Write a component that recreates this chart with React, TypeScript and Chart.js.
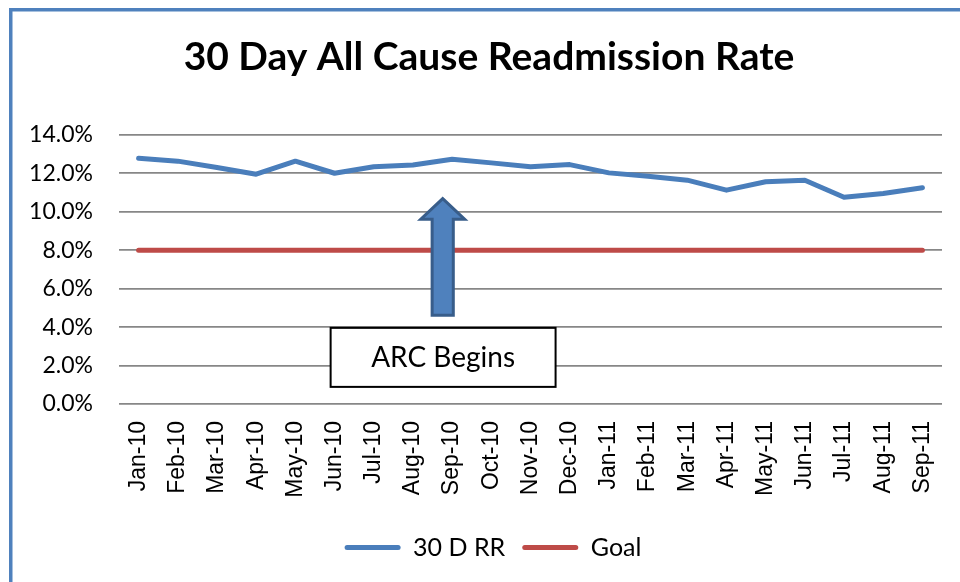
import React, { useEffect, useRef } from "react";
import { Chart, registerables } from "chart.js";

Chart.register(...registerables);

const chartTitle = "30 Day All Cause Readmission Rate";
const months = [
  "Jan-10", "Feb-10", "Mar-10", "Apr-10", "May-10", "Jun-10", "Jul-10",
  "Aug-10", "Sep-10", "Oct-10", "Nov-10", "Dec-10", "Jan-11", "Feb-11",
  "Mar-11", "Apr-11", "May-11", "Jun-11", "Jul-11", "Aug-11", "Sep-11",
];
const readmissionRate = [
  12.78, 12.63, 12.3, 11.95, 12.63, 12.0, 12.34, 12.43, 12.73, 12.54, 12.34,
  12.45, 12.02, 11.85, 11.64, 11.12, 11.56, 11.64, 10.75, 10.95, 11.25,
];
const goalRate = [
  8.0, 8.0, 8.0, 8.0, 8.0, 8.0, 8.0, 8.0, 8.0, 8.0, 8.0,
  8.0, 8.0, 8.0, 8.0, 8.0, 8.0, 8.0, 8.0, 8.0, 8.0,
];
const seriesNames = ["30 D RR", "Goal"];
const yMin = 0;
const yMax = 14;
const yStep = 2;

// annotation (in data units: category index / percent)
const annotationText = "ARC Begins";
const arrowAt = 7.76;
const arrowTip = 10.68;
const arrowHeadBase = 9.61;
const arrowBottom = 4.61;
const boxFrom = 4.9;
const boxTo = 10.64;
const boxTop = 3.96;
const boxBottom = 0.89;

const BLUE = "#4a7ebb";
const RED = "#be4b48";

const borderPlugin = {
  id: "frame",
  beforeDraw(chart: any) {
    const { ctx, width, height } = chart;
    ctx.save();
    ctx.fillStyle = "#ffffff";
    ctx.fillRect(0, 0, width, height);
    ctx.fillStyle = "#4f81bd";
    ctx.fillRect(9, 8, width - 9, 3.5);
    ctx.fillRect(9, 8, 3.5, height - 8);
    ctx.restore();
  },
};

// centre title and legend on the whole framed chart area, as in the original
const nudgePlugin = {
  id: "nudge",
  afterLayout(chart: any) {
    const t = chart.titleBlock;
    if (t) {
      t.left += 4;
      t.right += 4;
    }
    const l = chart.legend;
    if (l) {
      l.left += 8;
      l.right += 8;
    }
  },
};

const annotationPlugin = {
  id: "arcAnnotation",
  afterDatasetsDraw(chart: any) {
    const { ctx } = chart;
    const x = chart.scales.x;
    const y = chart.scales.y;
    const step = x.getPixelForValue(1) - x.getPixelForValue(0);
    const cx = x.getPixelForValue(arrowAt);
    const tip = y.getPixelForValue(arrowTip);
    const base = y.getPixelForValue(arrowHeadBase);
    const bottom = y.getPixelForValue(arrowBottom);
    const hw = step * 0.56;
    const sw = step * 0.27;
    ctx.save();
    ctx.beginPath();
    ctx.moveTo(cx, tip);
    ctx.lineTo(cx + hw, base);
    ctx.lineTo(cx + sw, base);
    ctx.lineTo(cx + sw, bottom);
    ctx.lineTo(cx - sw, bottom);
    ctx.lineTo(cx - sw, base);
    ctx.lineTo(cx - hw, base);
    ctx.closePath();
    ctx.fillStyle = "#4f81bd";
    ctx.fill();
    ctx.lineWidth = 3;
    ctx.lineJoin = "miter";
    ctx.strokeStyle = "#385d8a";
    ctx.stroke();

    const bx0 = x.getPixelForValue(boxFrom);
    const bx1 = x.getPixelForValue(boxTo);
    const by0 = y.getPixelForValue(boxTop);
    const by1 = y.getPixelForValue(boxBottom);
    ctx.fillStyle = "#ffffff";
    ctx.fillRect(bx0, by0, bx1 - bx0, by1 - by0);
    ctx.lineWidth = 2;
    ctx.strokeStyle = "#000000";
    ctx.strokeRect(bx0, by0, bx1 - bx0, by1 - by0);
    ctx.fillStyle = "#000000";
    ctx.font = "28px Lato";
    ctx.textAlign = "center";
    ctx.textBaseline = "middle";
    ctx.fillText(annotationText, (bx0 + bx1) / 2, (by0 + by1) / 2 + 1);
    ctx.restore();
  },
};

export default function App() {
  const canvasRef = useRef<HTMLCanvasElement | null>(null);

  useEffect(() => {
    let chart: Chart | null = null;
    let cancelled = false;
    const build = () => {
      if (cancelled || !canvasRef.current) return;
      chart = new Chart(canvasRef.current, {
        type: "line",
        data: {
          labels: months,
          datasets: [
            {
              label: seriesNames[0],
              data: readmissionRate,
              borderColor: BLUE,
              backgroundColor: BLUE,
              borderWidth: 5,
              pointRadius: 0,
              tension: 0,
              borderCapStyle: "round",
              borderJoinStyle: "round",
            },
            {
              label: seriesNames[1],
              data: goalRate,
              borderColor: RED,
              backgroundColor: RED,
              borderWidth: 5,
              pointRadius: 0,
              tension: 0,
              borderCapStyle: "round",
              borderJoinStyle: "round",
            },
          ],
        },
        options: {
          animation: false,
          responsive: false,
          devicePixelRatio: 1,
          layout: { padding: { left: 28, right: 18, top: 0, bottom: 12 } },
          plugins: {
            title: {
              display: true,
              text: chartTitle,
              color: "#000000",
              font: { family: "Lato", size: 39, weight: "bold" },
              padding: { top: 34, bottom: 54 },
            },
            legend: {
              display: true,
              position: "bottom",
              labels: {
                color: "#000000",
                font: { family: "Lato", size: 25 },
                boxWidth: 56,
                boxHeight: 5,
                padding: 17,
                generateLabels: (c: any) =>
                  Chart.defaults.plugins.legend.labels
                    .generateLabels(c)
                    .map((l: any) => ({ ...l, lineWidth: 0, borderRadius: 2.5 })),
              },
            },
            tooltip: { enabled: false },
          },
          scales: {
            x: {
              offset: true,
              grid: { display: false, drawTicks: false, offset: true },
              border: { display: false },
              ticks: {
                color: "#000000",
                font: { family: "Liberation Sans", size: 23 },
                minRotation: 90,
                maxRotation: 90,
                autoSkip: false,
                padding: 17,
              },
              afterFit: (s: any) => {
                s.height = 114;
                s.paddingLeft = 0;
                s.paddingRight = 0;
              },
            },
            y: {
              min: yMin,
              max: yMax,
              grid: { color: "#878787", lineWidth: 1.8, drawTicks: false },
              border: { display: false },
              ticks: {
                stepSize: yStep,
                color: "#000000",
                font: { family: "Lato", size: 23 },
                padding: 26,
                callback: (v: any) => Number(v).toFixed(1) + "%",
              },
              afterFit: (s: any) => {
                s.width = 91;
              },
            },
          },
        },
        plugins: [borderPlugin, nudgePlugin, annotationPlugin],
      });
    };
    const fontsReady = (document as any).fonts
      ? Promise.all([
          (document as any).fonts.load("bold 39px Lato"),
          (document as any).fonts.load("23px Lato"),
          (document as any).fonts.load('23px "Liberation Sans"'),
        ]).catch(() => null)
      : Promise.resolve(null);
    fontsReady.then(build);
    return () => {
      cancelled = true;
      if (chart) chart.destroy();
    };
  }, []);

  return (
    <div style={{ position: "fixed", left: 0, top: 0, width: 960, height: 582 }}>
      <canvas ref={canvasRef} width={960} height={582} style={{ width: 960, height: 582, display: "block" }} />
    </div>
  );
}
